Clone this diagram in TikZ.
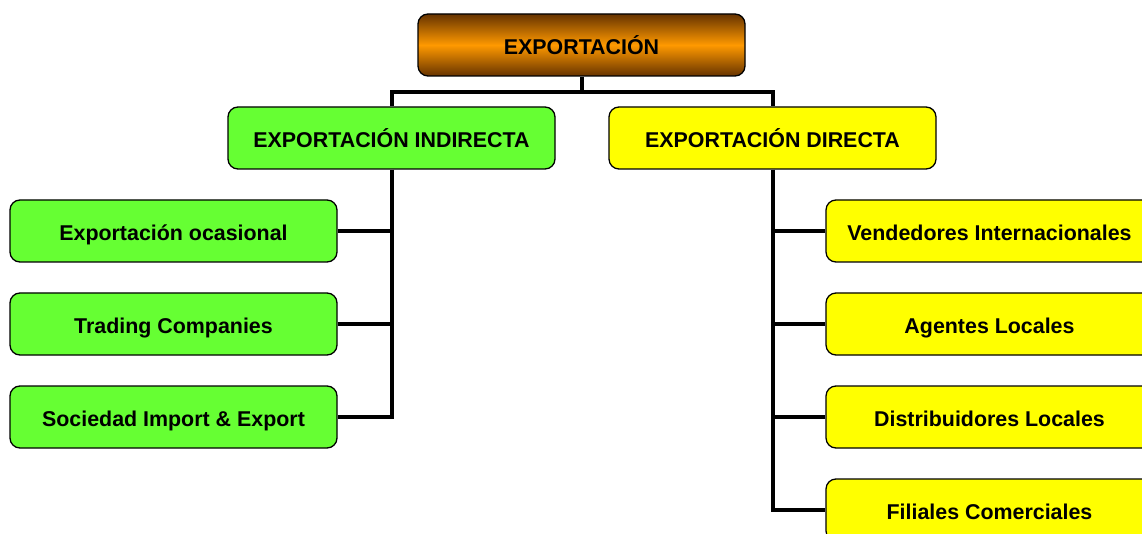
\documentclass[tikz,border=0pt]{standalone}
\usepackage{fontspec}
\setmainfont{Liberation Sans}
\begin{document}
\begin{tikzpicture}[x=1pt,y=-1pt,
  box/.style={draw=black,line width=1.3pt,rounded corners=10pt,minimum width=327pt,minimum height=62pt,inner sep=0pt,text height=18.5pt,text depth=0pt,font=\fontsize{21.4}{24}\selectfont\bfseries,text=black},
  gbox/.style={box,fill=green1},
  ybox/.style={box,fill=yellow1},
  conn/.style={line width=4pt,draw=black}]
\definecolor{green1}{HTML}{66FF33}
\definecolor{yellow1}{HTML}{FFFF00}
\definecolor{orange1}{HTML}{FF9900}
\definecolor{brown1}{HTML}{663300}
\useasboundingbox (0,0) rectangle (1142,534);
\node[box,top color=brown1,bottom color=brown1,middle color=orange1] (top) at (581.5,45) {EXPORTACIÓN};
\node[gbox] (ind) at (391.5,138) {EXPORTACIÓN INDIRECTA};
\node[ybox] (dir) at (772.5,138) {EXPORTACIÓN DIRECTA};
\node[gbox] (l1) at (173.5,231) {Exportación ocasional};
\node[gbox] (l2) at (173.5,324) {Trading Companies};
\node[gbox] (l3) at (173.5,417) {Sociedad Import \& Export};
\node[ybox] (r1) at (989.5,231) {Vendedores Internacionales};
\node[ybox] (r2) at (989.5,324) {Agentes Locales};
\node[ybox] (r3) at (989.5,417) {Distribuidores Locales};
\node[ybox] (r4) at (989.5,510) {Filiales Comerciales};
\coordinate (mid) at (581.5,92);
\draw[conn] (top.south) -- (mid);
\draw[conn] (ind.north) |- (mid) -| (dir.north);
\draw[conn] (ind.south) |- (l3.east);
\draw[conn] (l1.east) -- (l1.east -| ind.south);
\draw[conn] (l2.east) -- (l2.east -| ind.south);
\draw[conn] (dir.south) |- (r4.west);
\draw[conn] (r1.west) -- (r1.west -| dir.south);
\draw[conn] (r2.west) -- (r2.west -| dir.south);
\draw[conn] (r3.west) -- (r3.west -| dir.south);
\end{tikzpicture}
\end{document}
